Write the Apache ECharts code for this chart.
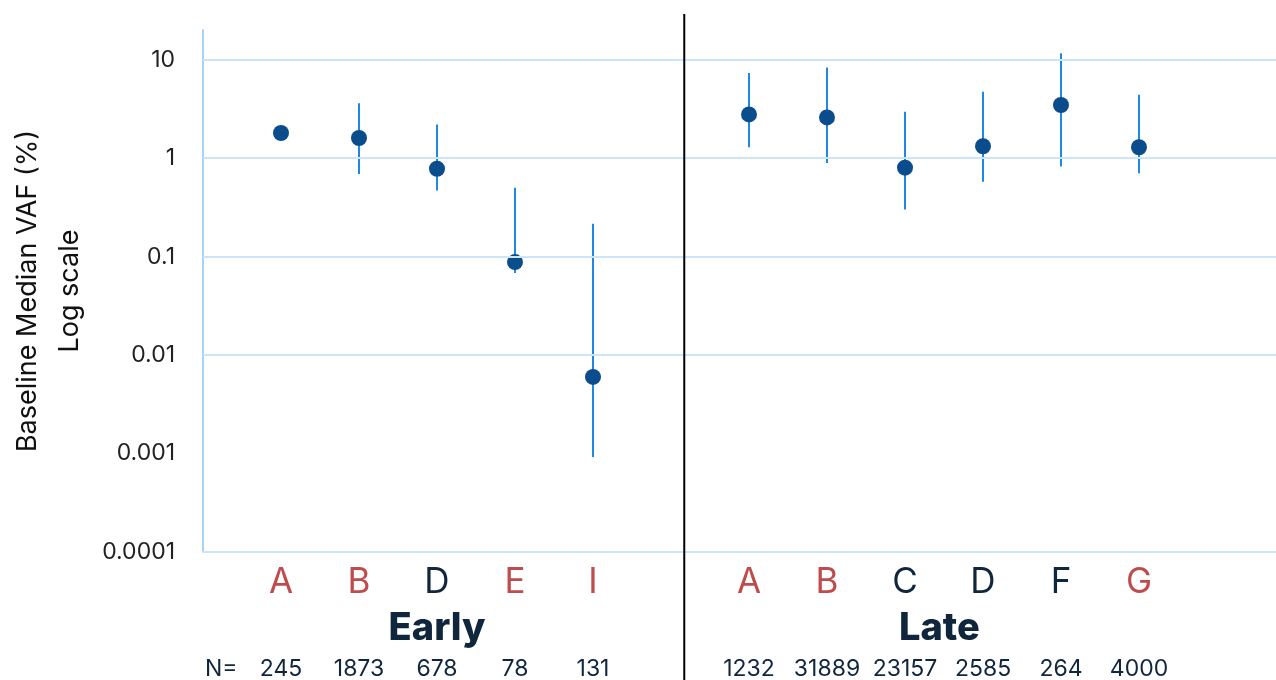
<!DOCTYPE html>
<html><head><meta charset="utf-8">
<script src="https://cdn.jsdelivr.net/npm/echarts@6/dist/echarts.min.js"></script>
<style>html,body{margin:0;padding:0;background:#fff;}#c{width:1276px;height:680px;}</style>
</head><body><div id="c"></div>
<script>
// ---- data ----
const earlyCats = ['A','B','D','E','I'];
const earlyMedian = [1.8, 1.6, 0.78, 0.088, 0.006];
const earlyLow = [null, 0.69, 0.47, 0.068, 0.00092];
const earlyHigh = [null, 3.6, 2.2, 0.5, 0.215];
const earlyN = ['245','1873','678','78','131'];
const lateCats = ['A','B','C','D','F','G'];
const lateMedian = [2.78, 2.59, 0.80, 1.32, 3.46, 1.29];
const lateLow = [1.29, 0.89, 0.30, 0.575, 0.82, 0.70];
const lateHigh = [7.3, 8.3, 2.96, 4.73, 11.6, 4.41];
const lateN = ['1232','31889','23157','2585','264','4000'];
const redCats = ['A','B','E','G','I'];
const yTicks = [0.0001, 0.001, 0.01, 0.1, 1, 10];
const yTickLabels = ['0.0001','0.001','0.01','0.1','1','10'];
const groupNames = ['Early','Late'];
const nPrefix = 'N=';
const yTitle = 'Baseline Median VAF (%)\nLog scale';

// ---- layout of category slots ----
const earlyStart = 1;
const lateStart = earlyStart + earlyCats.length + 1;
const cats = [''].concat(earlyCats, [''], lateCats, ['', '']);
const nVals = [''].concat(earlyN, [''], lateN, ['', '']);

const points = [], bars = [];
earlyCats.forEach((c, i) => {
  points.push([earlyStart + i, earlyMedian[i]]);
  if (earlyLow[i] != null) bars.push([earlyStart + i, earlyLow[i], earlyHigh[i]]);
});
lateCats.forEach((c, i) => {
  points.push([lateStart + i, lateMedian[i]]);
  if (lateLow[i] != null) bars.push([lateStart + i, lateLow[i], lateHigh[i]]);
});

const FONT = 'Inter, "Noto Sans", sans-serif';
const RED = '#bf4c4c', NAVY = '#10263d';

const chart = echarts.init(document.getElementById('c'), null, {renderer: 'canvas'});
chart.setOption({
  animation: false,
  backgroundColor: '#fff',
  grid: {left: 203, width: 1092, top: 30, bottom: 128, containLabel: false, outerBoundsMode: 'none'},
  xAxis: {
    type: 'category',
    boundaryGap: false,
    data: cats.map((c, i) => String(i)),
    axisLine: {show: true, lineStyle: {color: '#cde5fb', width: 2}},
    axisTick: {show: false},
    splitLine: {show: false},
    axisLabel: {
      interval: 0,
      margin: 0,
      fontFamily: FONT,
      formatter: (v, idx) => {
        const c = cats[idx];
        if (!c) return '';
        const k = redCats.indexOf(c) >= 0 ? 'r' : 'k';
        return '{' + k + '|' + c + '}\n{n|' + nVals[idx] + '}';
      },
      rich: {
        r: {color: RED, fontSize: 35, lineHeight: 60, fontFamily: FONT},
        k: {color: NAVY, fontSize: 35, lineHeight: 60, fontFamily: FONT},
        n: {color: NAVY, fontSize: 23, lineHeight: 114, fontFamily: FONT}
      }
    }
  },
  yAxis: {
    type: 'log',
    logBase: 10,
    min: 0.0001,
    max: 20,
    axisLine: {show: true, lineStyle: {color: '#a9d3f6', width: 2}},
    axisTick: {show: false},
    splitLine: {show: false},
    axisLabel: {
      fontSize: 23, color: '#222', margin: 28, fontFamily: FONT,
      formatter: v => {
        const k = yTicks.findIndex(t => Math.abs(Math.log10(t) - Math.log10(v)) < 1e-6);
        return k < 0 ? '' : yTickLabels[k];
      }
    },
    name: yTitle,
    nameLocation: 'middle',
    nameRotate: 90,
    nameGap: 110,
    nameTextStyle: {fontSize: 27, lineHeight: 42, color: '#111', fontFamily: FONT}
  },
  series: [
    {
      type: 'custom',
      z: 2,
      data: bars,
      encode: {x: 0, y: [1, 2]},
      renderItem: (params, api) => {
        const x = api.value(0);
        const p1 = api.coord([x, api.value(1)]);
        const p2 = api.coord([x, api.value(2)]);
        return {type: 'line', shape: {x1: p1[0], y1: p1[1], x2: p2[0], y2: p2[1]},
                style: {stroke: '#1e88e5', lineWidth: 2}};
      },
      markLine: {
        silent: true,
        symbol: ['none', 'none'],
        label: {show: false},
        lineStyle: {color: '#cde5fb', width: 2, type: 'solid'},
        data: yTicks.map(v => ({yAxis: v}))
      }
    },
    {
      type: 'scatter',
      z: 3,
      data: points,
      symbol: 'circle',
      symbolSize: 16,
      itemStyle: {color: '#0b4c8c', opacity: 1}
    }
  ]
});

// annotations placed through the axis scale
const px = f => {
  const a = Math.floor(f), b = a + 1;
  const pa = chart.convertToPixel({xAxisIndex: 0}, a);
  const pb = chart.convertToPixel({xAxisIndex: 0}, b);
  return pa + (pb - pa) * (f - a);
};
const earlyMid = earlyStart + (earlyCats.length - 1) / 2;
const lateMid = lateStart + (lateCats.length - 1) / 2 - 0.06;
const dividerPos = lateStart - 0.83;
chart.setOption({
  graphic: [
    {type: 'line', z: 10, shape: {x1: px(dividerPos), y1: 14, x2: px(dividerPos), y2: 680},
     style: {stroke: '#000', lineWidth: 2}},
    {type: 'text', z: 10, x: px(earlyMid), y: 629,
     style: {text: groupNames[0], font: '800 38px ' + FONT, fill: NAVY, align: 'center', verticalAlign: 'middle'}},
    {type: 'text', z: 10, x: px(lateMid), y: 629,
     style: {text: groupNames[1], font: '800 38px ' + FONT, fill: NAVY, align: 'center', verticalAlign: 'middle'}},
    {type: 'text', z: 10, x: px(0) + 2, y: 669,
     style: {text: nPrefix, font: '23px ' + FONT, fill: NAVY, align: 'left', verticalAlign: 'middle'}}
  ]
});
</script>
</body></html>
